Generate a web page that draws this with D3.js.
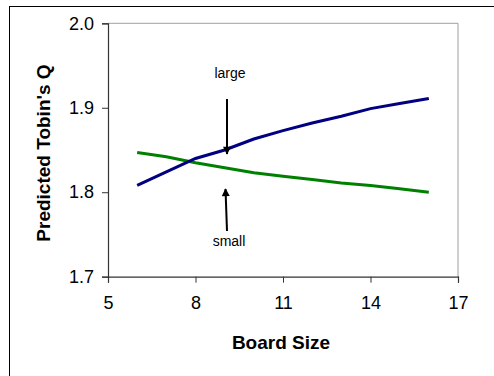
<!DOCTYPE html>
<html><head><meta charset="utf-8">
<script src="https://cdn.jsdelivr.net/npm/d3@7"></script>
<style>html,body{margin:0;padding:0;background:#fff;}svg{display:block;font-family:Arial,"Liberation Sans",sans-serif;}</style>
</head><body>
<svg id="c" width="494" height="376"></svg>
<script>
const boardSize = [6, 7, 8, 9, 10, 11, 12, 13, 14, 15, 16];
const largeQ = [1.808, 1.824, 1.840, 1.850, 1.863, 1.873, 1.882, 1.890, 1.899, 1.905, 1.911];
const smallQ = [1.847, 1.842, 1.835, 1.829, 1.823, 1.819, 1.815, 1.811, 1.808, 1.804, 1.800];
const xTicks = [5, 8, 11, 14, 17];
const yTicks = [1.7, 1.8, 1.9, 2.0];

const FONT = "Arial, 'Liberation Sans', sans-serif";
const svg = d3.select("#c");
svg.append("rect").attr("x", 9.5).attr("y", 6.5).attr("width", 500).attr("height", 400)
  .attr("fill", "#fff").attr("stroke", "#000").attr("stroke-width", 1);

const L = 108, R = 458, T = 23.3, B = 276.7;
const x = d3.scaleLinear().domain([5, 17]).range([L, R]);
const y = d3.scaleLinear().domain([1.7, 2.0]).range([B, T]);

svg.append("path").attr("d", `M${L},${T}H${R}V${B}`).attr("fill", "none").attr("stroke", "#a0a0a0").attr("stroke-width", 1);

const yAxis = svg.append("g").attr("transform", `translate(${L},0)`)
  .call(d3.axisLeft(y).tickValues(yTicks).tickFormat(d3.format(".1f")).tickSize(6).tickPadding(8));
const xAxis = svg.append("g").attr("transform", `translate(0,${B})`)
  .call(d3.axisBottom(x).tickValues(xTicks).tickFormat(d3.format("d")).tickSize(6).tickPadding(14));
[yAxis, xAxis].forEach(g => {
  g.attr("font-size", 18).attr("font-family", FONT);
  g.select(".domain").attr("stroke", "#333").attr("stroke-width", 1.2);
  g.selectAll(".tick line").attr("stroke", "#333");
  g.selectAll("text").attr("fill", "#000");
});

const line = d3.line().x((d, i) => x(boardSize[i])).y(d => y(d));
svg.append("path").datum(smallQ).attr("d", line).attr("fill", "none").attr("stroke", "#008000").attr("stroke-width", 3);
svg.append("path").datum(largeQ).attr("d", line).attr("fill", "none").attr("stroke", "#000080").attr("stroke-width", 3);

const defs = svg.append("defs");
defs.append("marker").attr("id", "ah").attr("viewBox", "0 0 10 10").attr("refX", 9).attr("refY", 5)
  .attr("markerWidth", 4.5).attr("markerHeight", 4).attr("markerUnits", "strokeWidth").attr("orient", "auto")
  .append("path").attr("d", "M0,0L10,5L0,10z").attr("fill", "#000");
svg.append("line").attr("x1", 227).attr("y1", 99).attr("x2", 227).attr("y2", 154)
  .attr("stroke", "#000").attr("stroke-width", 2).attr("marker-end", "url(#ah)");
svg.append("line").attr("x1", 227).attr("y1", 231).attr("x2", 225.5).attr("y2", 189)
  .attr("stroke", "#000").attr("stroke-width", 2).attr("marker-end", "url(#ah)");
svg.append("text").attr("x", 230).attr("y", 77.5).attr("text-anchor", "middle").attr("font-size", 14).attr("font-family", FONT).text("large");
svg.append("text").attr("x", 229).attr("y", 246).attr("text-anchor", "middle").attr("font-size", 14).attr("font-family", FONT).text("small");

svg.append("text").attr("transform", `translate(50,153) rotate(-90)`).attr("text-anchor", "middle")
  .attr("font-size", 19).attr("font-weight", "bold").attr("font-family", FONT).text("Predicted Tobin's Q");
svg.append("text").attr("x", 281).attr("y", 349).attr("text-anchor", "middle")
  .attr("font-size", 19).attr("font-weight", "bold").attr("font-family", FONT).text("Board Size");
</script>
</body></html>
